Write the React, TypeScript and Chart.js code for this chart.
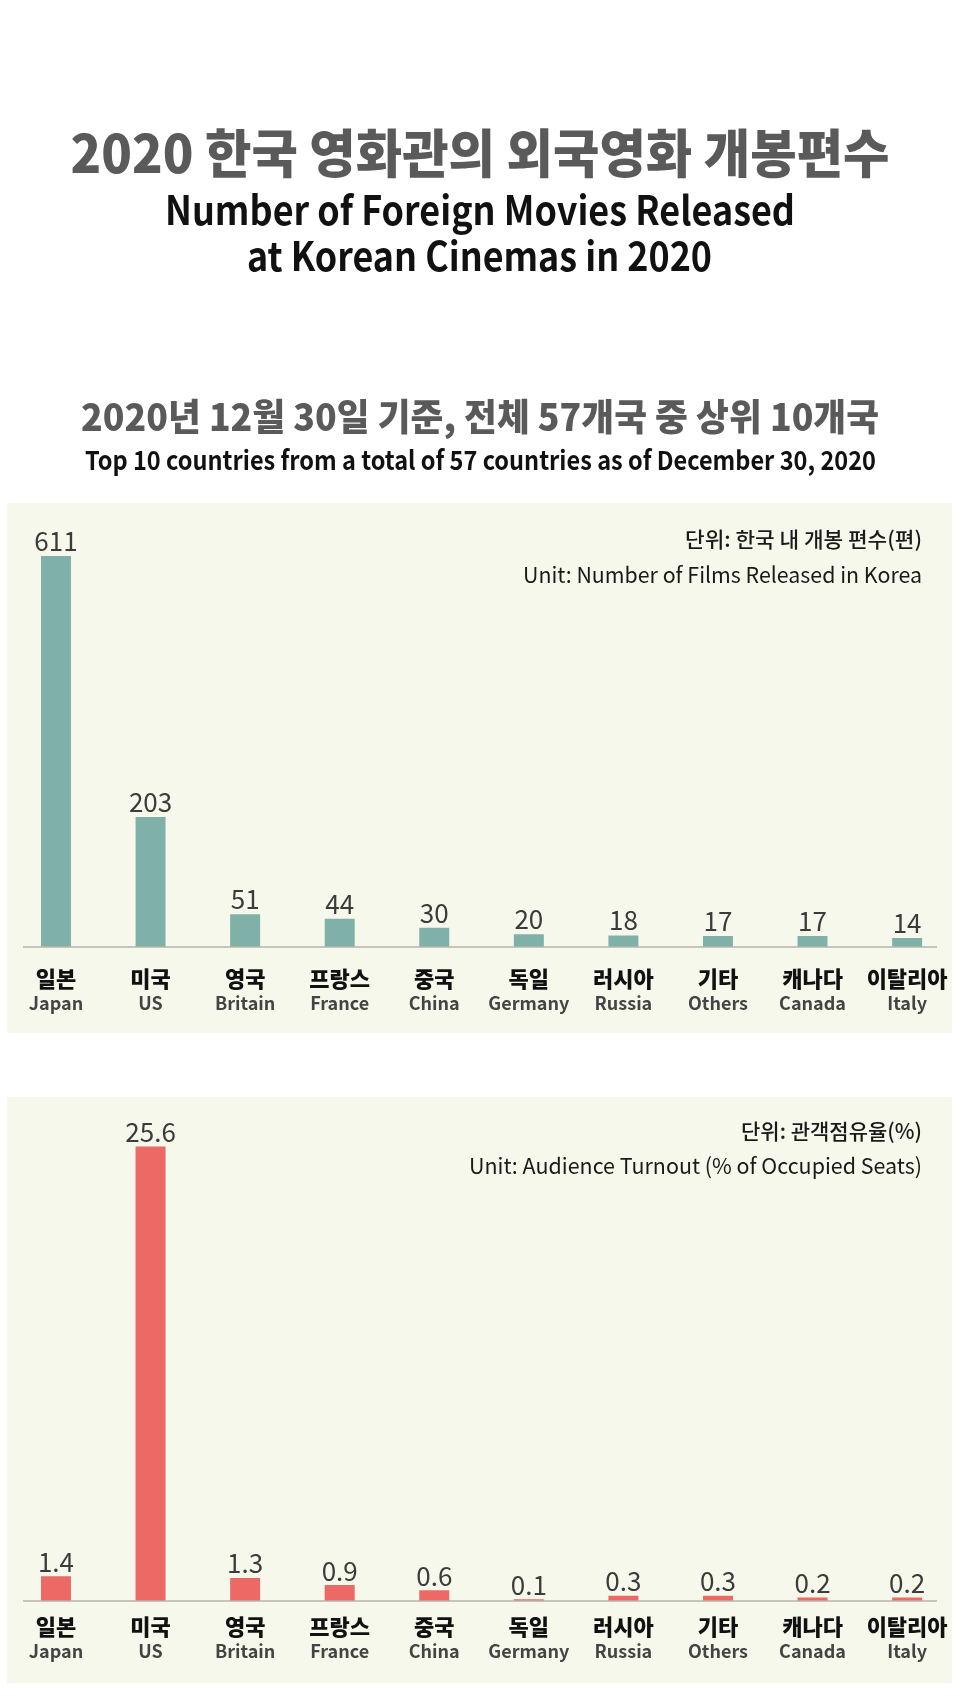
import React, { useEffect, useRef } from "react";
import { Chart, registerables } from "chart.js";

Chart.register(...registerables);

const koLabels = ["일본", "미국", "영국", "프랑스", "중국", "독일", "러시아", "기타", "캐나다", "이탈리아"];
const enLabels = ["Japan", "US", "Britain", "France", "China", "Germany", "Russia", "Others", "Canada", "Italy"];
const releases = [611, 203, 51, 44, 30, 20, 18, 17, 17, 14];
const turnout = [1.4, 25.6, 1.3, 0.9, 0.6, 0.1, 0.3, 0.3, 0.2, 0.2];
const releaseText = ["611", "203", "51", "44", "30", "20", "18", "17", "17", "14"];
const turnoutText = ["1.4", "25.6", "1.3", "0.9", "0.6", "0.1", "0.3", "0.3", "0.2", "0.2"];

const FONT = "'Noto Sans CJK KR', 'Noto Sans', sans-serif";

const labelPlugin = {
  id: "barLabels",
  afterDatasetsDraw(chart: any, _args: any, opts: any) {
    const ctx = chart.ctx;
    const meta = chart.getDatasetMeta(0);
    const base = chart.scales.y.getPixelForValue(0);
    ctx.save();
    ctx.strokeStyle = "#b4b5ad";
    ctx.lineWidth = 1.5;
    ctx.beginPath();
    ctx.moveTo(opts.lineFrom, base);
    ctx.lineTo(opts.lineTo, base);
    ctx.stroke();
    ctx.textAlign = "center";
    ctx.textBaseline = "alphabetic";
    meta.data.forEach((bar: any, i: number) => {
      const x = bar.x;
      ctx.fillStyle = "#3b3b3b";
      ctx.font = `26px ${FONT}`;
      ctx.fillText(opts.valueText[i], x, bar.y - opts.valueGap);
      ctx.fillStyle = "#111111";
      ctx.font = `900 22px ${FONT}`;
      ctx.fillText(opts.ko[i], x, base + opts.koOff);
      ctx.fillStyle = "#444444";
      ctx.font = `bold 18px ${FONT}`;
      ctx.fillText(opts.en[i], x, base + opts.enOff);
    });
    ctx.restore();
  },
};

type BarProps = {
  values: number[];
  valueText: string[];
  color: string;
  yMax: number;
  top: number;
  height: number;
  padTop: number;
  padBottom: number;
  koOff: number;
  enOff: number;
  valueGap: number;
};

function BarChart(p: BarProps) {
  const ref = useRef<HTMLCanvasElement | null>(null);
  useEffect(() => {
    if (!ref.current) return;
    const chart = new Chart(ref.current, {
      type: "bar",
      data: {
        labels: koLabels,
        datasets: [
          {
            data: p.values,
            backgroundColor: p.color,
            borderWidth: 0,
            categoryPercentage: 1,
            barPercentage: 0.317,
          },
        ],
      },
      options: {
        responsive: false,
        animation: false,
        events: [],
        layout: { padding: { left: 8.7, right: 5.6, top: p.padTop, bottom: p.padBottom } },
        scales: {
          x: { display: false },
          y: { display: false, min: 0, max: p.yMax },
        },
        plugins: {
          legend: { display: false },
          tooltip: { enabled: false },
          barLabels: {
            valueText: p.valueText,
            ko: koLabels,
            en: enLabels,
            koOff: p.koOff,
            enOff: p.enOff,
            valueGap: p.valueGap,
            lineFrom: 23,
            lineTo: 937,
          },
        } as any,
      },
      plugins: [labelPlugin],
    });
    return () => chart.destroy();
  }, []);
  return (
    <canvas
      ref={ref}
      width={960}
      height={p.height}
      style={{ position: "absolute", left: 0, top: p.top, width: 960, height: p.height }}
    />
  );
}

export default function App() {
  const panelBg = "#f7f8ec";
  return (
    <div style={{ position: "absolute", left: 0, top: 0, width: 960, height: 1700, background: "#ffffff", overflow: "hidden" }}>
      <div style={{ position: "absolute", left: 7, top: 503, width: 945, height: 530, background: panelBg }} />
      <div style={{ position: "absolute", left: 7, top: 1097, width: 945, height: 586, background: panelBg }} />
      <BarChart values={releases} valueText={releaseText} color="#80b1a9" yMax={700} top={495} height={545} padTop={4} padBottom={93} koOff={39.5} enOff={63} valueGap={5} />
      <BarChart values={turnout} valueText={turnoutText} color="#ec6966" yMax={27} top={1090} height={610} padTop={31.75} padBottom={99} koOff={34} enOff={57} valueGap={4.5} />
      <svg width={960} height={1700} style={{ position: "absolute", left: 0, top: 0, pointerEvents: "none" }} fontFamily={FONT}>
        <text x={480} y={173} textAnchor="middle" fontSize={52} fontWeight={900} fill="#5a5a5a" textLength={819} lengthAdjust="spacingAndGlyphs">2020 한국 영화관의 외국영화 개봉편수</text>
        <text x={480} y={224.5} textAnchor="middle" fontSize={40} fontWeight={700} fill="#111111" textLength={630} lengthAdjust="spacingAndGlyphs">Number of Foreign Movies Released</text>
        <text x={479.5} y={271} textAnchor="middle" fontSize={40} fontWeight={700} fill="#111111" textLength={465} lengthAdjust="spacingAndGlyphs">at Korean Cinemas in 2020</text>
        <text x={480} y={430.5} textAnchor="middle" fontSize={37} fontWeight={900} fill="#5a5a5a" textLength={798} lengthAdjust="spacingAndGlyphs">2020년 12월 30일 기준, 전체 57개국 중 상위 10개국</text>
        <text x={480.5} y={469.5} textAnchor="middle" fontSize={26} fontWeight={700} fill="#111111" textLength={791} lengthAdjust="spacingAndGlyphs">Top 10 countries from a total of 57 countries as of December 30, 2020</text>
        <text x={922} y={547} textAnchor="end" fontSize={21} fontWeight={500} fill="#1a1a1a" textLength={237} lengthAdjust="spacingAndGlyphs">단위: 한국 내 개봉 편수(편)</text>
        <text x={922} y={583} textAnchor="end" fontSize={22} fill="#1a1a1a" textLength={399} lengthAdjust="spacingAndGlyphs">Unit: Number of Films Released in Korea</text>
        <text x={922} y={1139} textAnchor="end" fontSize={21} fontWeight={500} fill="#1a1a1a" textLength={181} lengthAdjust="spacingAndGlyphs">단위: 관객점유율(%)</text>
        <text x={922} y={1174} textAnchor="end" fontSize={22} fill="#1a1a1a" textLength={453} lengthAdjust="spacingAndGlyphs">Unit: Audience Turnout (% of Occupied Seats)</text>
      </svg>
    </div>
  );
}
